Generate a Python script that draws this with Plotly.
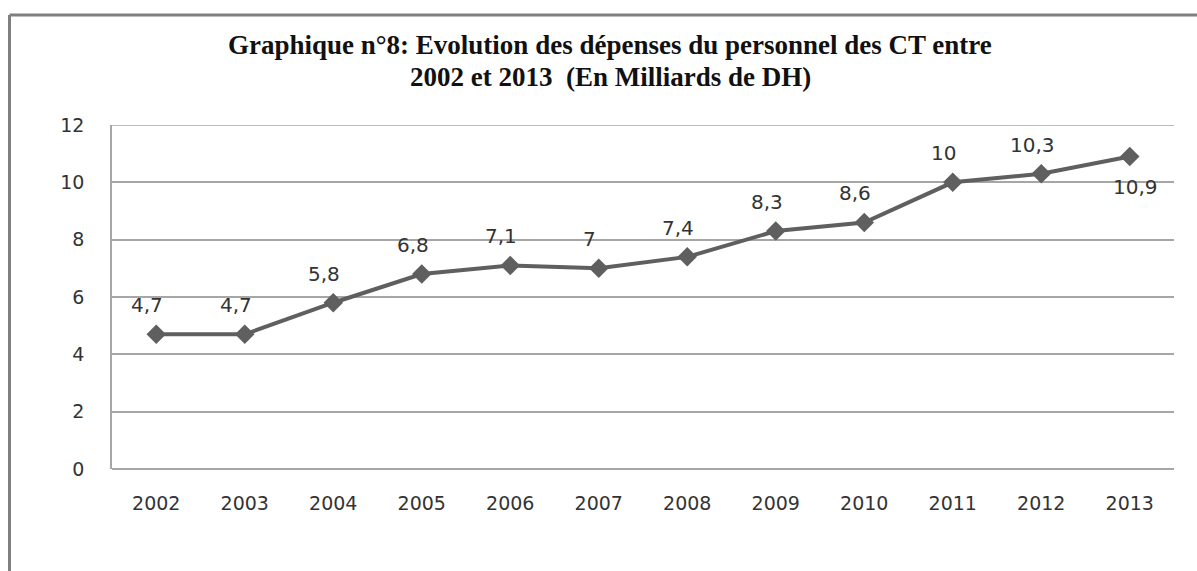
import plotly.graph_objects as go

years = ["2002", "2003", "2004", "2005", "2006", "2007", "2008", "2009", "2010", "2011", "2012", "2013"]
values = [4.7, 4.7, 5.8, 6.8, 7.1, 7.0, 7.4, 8.3, 8.6, 10.0, 10.3, 10.9]
labels = ["4,7", "4,7", "5,8", "6,8", "7,1", "7", "7,4", "8,3", "8,6", "10", "10,3", "10,9"]
y_ticks = [0, 2, 4, 6, 8, 10, 12]
title_lines = ["Graphique n°8: Evolution des dépenses du personnel des CT entre",
               "2002 et 2013  (En Milliards de DH)"]

W, H = 1197, 571
L, R, T, B = 112, 23, 125, 102
pw, ph = W - L - R, H - T - B

LINE = "#5f5f5f"
GRID = "#a6a6a6"
TXT = "#333333"


def px_x(p):
    return (p - L) / pw


def px_y(p):
    return (H - B - p) / ph


fig = go.Figure()
fig.add_trace(go.Scatter(
    x=years, y=values, mode="lines+markers",
    line=dict(color=LINE, width=4),
    marker=dict(symbol="diamond", size=15, color=LINE),
    hoverinfo="skip", showlegend=False,
))

annotations = []
for i, (v, lab) in enumerate(zip(values, labels)):
    last = i == len(values) - 1
    annotations.append(dict(
        x=i, y=v, xref="x", yref="y", text=lab, showarrow=False,
        yshift=-30 if last else 29, xshift=6 if last else -9,
        font=dict(family="DejaVu Sans", size=20, color=TXT),
    ))

for line_text, cy in zip(title_lines, [45, 77]):
    annotations.append(dict(
        x=px_x(610), y=px_y(cy), xref="paper", yref="paper", text=line_text,
        showarrow=False, xanchor="center", yanchor="middle",
        font=dict(family="Liberation Serif", size=27, color="#111111", weight="bold"),
    ))

shapes = [
    dict(type="line", xref="paper", yref="paper", x0=px_x(9.5), x1=px_x(W + 5),
         y0=px_y(15), y1=px_y(15), line=dict(color="#808080", width=3)),
    dict(type="line", xref="paper", yref="paper", x0=px_x(9.5), x1=px_x(9.5),
         y0=px_y(15), y1=px_y(H + 5), line=dict(color="#808080", width=3)),
    dict(type="line", xref="paper", yref="y", x0=0, x1=1, y0=12, y1=12,
         line=dict(color=GRID, width=1.5)),
]

fig.update_layout(
    width=W, height=H,
    margin=dict(l=L, r=R, t=T, b=B, pad=0),
    paper_bgcolor="white", plot_bgcolor="white",
    xaxis=dict(
        type="category", range=[-0.5, len(years) - 0.5],
        showgrid=False, showline=False, zeroline=False,
        ticks="", ticklabelstandoff=21,
        tickfont=dict(family="DejaVu Sans", size=19, color=TXT),
    ),
    yaxis=dict(
        range=[0, 12], tickvals=y_ticks, ticktext=[str(t) for t in y_ticks],
        showgrid=True, gridcolor=GRID, gridwidth=1.5,
        zeroline=True, zerolinecolor=GRID, zerolinewidth=1.5,
        showline=True, linecolor=GRID, linewidth=1.5,
        ticks="", ticklabelstandoff=22,
        tickfont=dict(family="DejaVu Sans", size=19, color=TXT),
    ),
    annotations=annotations,
    shapes=shapes,
)

fig.write_html("out.html", config={"displayModeBar": False},
               post_script="document.body.style.margin='0';")
